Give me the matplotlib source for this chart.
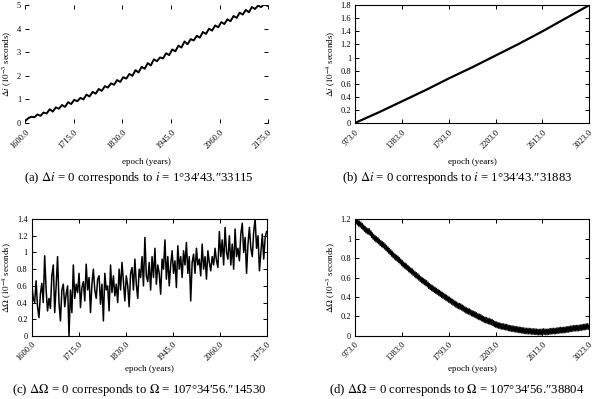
import matplotlib
matplotlib.use("Agg")
import matplotlib.pyplot as plt

plt.rcParams["font.family"] = ["Liberation Serif", "DejaVu Serif"]
plt.rcParams["mathtext.fontset"] = "stix"

# (a) inclination, 1600-2175
years_a = [1600 + 7.25 * k for k in range(80)]
di_a = [0.08, 0.20, 0.26, 0.24, 0.36, 0.30, 0.44, 0.40, 0.58, 0.48, 0.66, 0.60, 0.76, 0.68,
        0.88, 0.80, 0.98, 0.92, 1.06, 1.00, 1.20, 1.12, 1.32, 1.24, 1.44, 1.36, 1.56, 1.50,
        1.68, 1.62, 1.82, 1.74, 1.94, 1.88, 2.08, 2.00, 2.24, 2.14, 2.38, 2.30, 2.54, 2.44,
        2.70, 2.62, 2.78, 2.74, 2.96, 2.88, 3.12, 3.04, 3.28, 3.20, 3.46, 3.34, 3.56, 3.50,
        3.70, 3.62, 3.86, 3.78, 4.00, 3.92, 4.14, 4.06, 4.28, 4.20, 4.40, 4.32, 4.54, 4.46,
        4.68, 4.60, 4.80, 4.70, 4.92, 4.84, 4.98, 4.92, 5.04, 4.98]

# (b) inclination, 973-3023
years_b = [973, 1178, 1383, 1588, 1793, 1998, 2203, 2408, 2613, 2818, 3023]
di_b = [0.0, 0.16, 0.33, 0.50, 0.68, 0.85, 1.03, 1.21, 1.40, 1.60, 1.80]

# (c) node, 1600-2175
years_c = [1600 + 3.5 * k for k in range(165)]
dO_c = [0.62, 0.45, 0.40, 0.66, 0.35, 0.22, 0.50, 0.63, 0.40, 0.96, 0.55, 0.30, 0.45, 0.33,
        0.72, 0.85, 0.28, 0.60, 0.95, 0.40, 0.18, 0.55, 0.62, 0.35, 0.50, 0.60, 0.00, 0.55,
        0.28, 0.85, 0.45, 0.62, 0.52, 0.75, 0.34, 0.58, 0.65, 0.42, 0.86, 0.55, 0.70, 0.28,
        0.62, 0.80, 0.55, 0.45, 0.68, 0.72, 0.38, 0.62, 0.18, 0.75, 0.55, 0.60, 0.30, 0.85,
        0.52, 0.72, 0.48, 0.62, 0.40, 0.80, 0.55, 0.88, 0.65, 0.42, 0.72, 0.60, 0.35, 0.75,
        0.82, 0.55, 0.92, 0.62, 0.45, 0.80, 0.70, 0.95, 0.60, 1.18, 0.72, 0.65, 0.88, 0.55,
        0.95, 0.70, 1.05, 0.62, 0.85, 0.75, 0.50, 0.92, 0.80, 1.15, 0.68, 0.95, 0.60, 0.85,
        1.02, 0.75, 0.90, 0.58, 1.08, 0.80, 0.95, 0.70, 1.02, 0.85, 1.12, 0.75, 0.95, 0.42,
        0.88, 0.98, 0.75, 1.05, 0.85, 0.92, 0.72, 1.10, 0.80, 0.95, 0.68, 1.02, 0.88, 0.78,
        0.95, 0.85, 1.05, 0.90, 0.82, 1.25, 0.95, 1.15, 0.85, 1.30, 1.00, 0.92, 1.20, 0.85,
        1.10, 0.80, 1.28, 0.95, 1.05, 0.90, 1.22, 1.35, 1.00, 1.18, 0.75, 1.10, 1.30, 1.05,
        0.95, 1.25, 1.40, 1.05, 1.20, 0.78, 1.00, 1.22, 0.92, 1.18, 1.25]

# (d) node, 973-3023
years_d = [973 + 25 * k for k in range(83)]
dO_d = [1.19, 1.16, 1.14, 1.11, 1.08, 1.07, 1.03, 1.00, 0.98, 0.95, 0.93, 0.90, 0.87, 0.84,
        0.81, 0.79, 0.76, 0.73, 0.71, 0.68, 0.66, 0.63, 0.61, 0.58, 0.56, 0.54, 0.51, 0.49,
        0.47, 0.45, 0.43, 0.41, 0.39, 0.37, 0.35, 0.33, 0.31, 0.30, 0.28, 0.26, 0.25, 0.23,
        0.22, 0.20, 0.19, 0.17, 0.16, 0.15, 0.14, 0.12, 0.11, 0.10, 0.095, 0.09, 0.08, 0.075,
        0.07, 0.065, 0.06, 0.055, 0.05, 0.05, 0.045, 0.045, 0.04, 0.04, 0.045, 0.04, 0.045,
        0.05, 0.05, 0.055, 0.06, 0.06, 0.065, 0.07, 0.075, 0.08, 0.08, 0.085, 0.09, 0.095, 0.10]
# half-width of the noisy band in (d)
jit_d = [0.03, -0.03]

ticks_ac = [1600.0, 1715.0, 1830.0, 1945.0, 2060.0, 2175.0]
ticks_bd = [973.0, 1383.0, 1793.0, 2203.0, 2613.0, 3023.0]

panels = [
    dict(pos=[0.042, 0.692, 0.405, 0.295], x=years_a, y=di_a, xt=ticks_ac,
         yt=[0, 1, 2, 3, 4, 5], ylab=r"$\Delta i$ ($10^{-3}$ seconds)", ylim=(0, 5),
         cap=r"(a) $\Delta i$ = 0 corresponds to $i$ = 1°34′43.″33115", lw=1.4, cx=0.232),
    dict(pos=[0.592, 0.692, 0.390, 0.295], x=years_b, y=di_b, xt=ticks_bd,
         yt=[0, 0.2, 0.4, 0.6, 0.8, 1, 1.2, 1.4, 1.6, 1.8], ylab=r"$\Delta i$ ($10^{-4}$ seconds)",
         ylim=(0, 1.8), cap=r"(b) $\Delta i$ = 0 corresponds to $i$ = 1°34′43.″31883", lw=1.6, cx=0.762),
    dict(pos=[0.053, 0.158, 0.392, 0.293], x=years_c, y=dO_c, xt=ticks_ac,
         yt=[0, 0.2, 0.4, 0.6, 0.8, 1, 1.2, 1.4], ylab=r"$\Delta\Omega$ ($10^{-4}$ seconds)",
         ylim=(0, 1.4), cap=r"(c) $\Delta\Omega$ = 0 corresponds to $\Omega$ = 107°34′56.″14530",
         lw=1.1, cx=0.232),
    dict(pos=[0.592, 0.158, 0.390, 0.293], x=years_d, y=dO_d, xt=ticks_bd,
         yt=[0, 0.2, 0.4, 0.6, 0.8, 1, 1.2], ylab=r"$\Delta\Omega$ ($10^{-3}$ seconds)",
         ylim=(0, 1.2), cap=r"(d) $\Delta\Omega$ = 0 corresponds to $\Omega$ = 107°34′56.″38804",
         lw=2.2, cx=0.762),
]

fig = plt.figure(figsize=(6.0, 3.99), dpi=100)

for i, p in enumerate(panels):
    ax = fig.add_axes(p["pos"])
    if i == 3:
        # zig-zag between the upper and lower edge of the band
        xs, ys = [], []
        for k in range(len(p["x"]) - 1):
            for j in range(4):
                t = j / 4
                xs.append(p["x"][k] + t * (p["x"][k + 1] - p["x"][k]))
                ys.append(p["y"][k] + t * (p["y"][k + 1] - p["y"][k]) + jit_d[j % 2])
        ax.plot(xs, ys, color="black", lw=0.8)
    ax.plot(p["x"], p["y"], color="black", lw=p["lw"])
    ax.set_xlim(p["xt"][0], p["xt"][-1])
    ax.set_ylim(*p["ylim"])
    ax.set_xticks(p["xt"])
    ax.set_xticklabels([f"{t:.1f}" for t in p["xt"]], rotation=45, ha="right",
                       rotation_mode="anchor", fontsize=6)
    ax.set_yticks(p["yt"])
    ax.set_yticklabels([f"{t:g}" for t in p["yt"]], fontsize=6)
    ax.tick_params(direction="in", length=3, width=0.7, top=True, right=True)
    ax.tick_params(axis="x", pad=4 if i < 2 else 3)
    ax.tick_params(axis="y", pad=3)
    for s in ax.spines.values():
        s.set_linewidth(0.8)
        if i == 0:
            s.set_visible(False)
    ax.set_xlabel("epoch (years)", fontsize=6.5, labelpad=5 if i < 2 else 2)
    ax.set_ylabel(p["ylab"], fontsize=6.5, labelpad=2)
    cy = 0.553 if i < 2 else 0.022
    fig.text(p["cx"], cy, p["cap"], ha="center", va="center", fontsize=9.2)

fig.savefig("out.png", dpi=100)
